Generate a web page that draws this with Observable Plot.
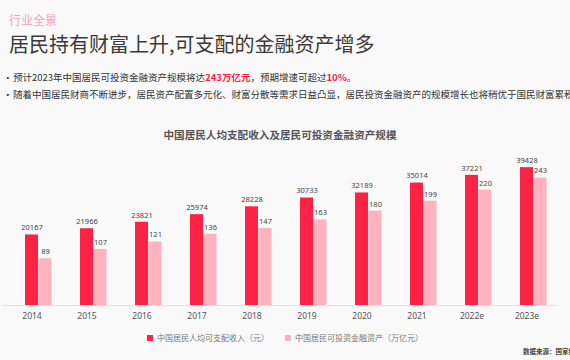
<!DOCTYPE html>
<html>
<head>
<meta charset="utf-8">
<script src="https://cdn.jsdelivr.net/npm/d3@7"></script>
<script src="https://cdn.jsdelivr.net/npm/@observablehq/plot@0.6"></script>
<style>
  html, body { margin: 0; padding: 0; }
  body { width: 570px; height: 360px; background: #f9f9f9; position: relative; overflow: hidden;
         font-family: "Noto Sans", "Noto Sans CJK SC", sans-serif; }
  .abs { position: absolute; white-space: nowrap; }
  #kicker { left: 9px; top: 11px; font-size: 12px; color: #f7a3b2; font-family: "Noto Sans CJK SC", sans-serif; }
  #title { left: 9px; top: 29px; font-size: 20px; color: #3a3a3a; font-family: "Noto Sans CJK SC", sans-serif; }
  .bullet { left: 3px; font-size: 9.5px; color: #333; font-family: "Noto Sans CJK SC", sans-serif; }
  .bullet .dot { display: inline-block; width: 10px; }
  .hl { color: #ff2244; font-weight: bold; }
  #ctitle { left: 0; width: 560px; text-align: center; top: 127px; font-size: 10.6px; font-weight: bold; color: #555; font-family: "Noto Sans CJK SC", sans-serif; }
  #chart { position: absolute; left: 0; top: 150px; }
  .leg { top: 332px; font-size: 8px; color: #777; font-family: "Noto Sans CJK SC", sans-serif; }
  .sw { display: inline-block; width: 6px; height: 6px; margin-right: 4px; vertical-align: 0px; }
  #source { left: 523px; top: 346px; font-size: 6.5px; font-weight: bold; color: #444; font-family: "Noto Sans CJK SC", sans-serif; }
</style>
</head>
<body>
<div id="kicker" class="abs">行业全景</div>
<div id="title" class="abs">居民持有财富上升,可支配的金融资产增多</div>
<div class="abs bullet" style="top:70px"><span class="dot">•</span>预计2023年中国居民可投资金融资产规模将达<span class="hl">243万亿元</span>，预期增速可超过<span class="hl">10%</span>。</div>
<div class="abs bullet" style="top:87px"><span class="dot">•</span>随着中国居民财商不断进步，居民资产配置多元化、财富分散等需求日益凸显，居民投资金融资产的规模增长也将稍优于国民财富累积趋势</div>
<div id="ctitle" class="abs">中国居民人均支配收入及居民可投资金融资产规模</div>
<div id="chart"></div>
<div class="abs leg" style="left:147px"><span class="sw" style="background:#ff2244"></span>中国居民人均可支配收入（元）</div>
<div class="abs leg" style="left:285px"><span class="sw" style="background:#ffb3bf"></span>中国居民可投资金融资产（万亿元）</div>
<div id="source" class="abs">数据来源：国家统计局</div>
<script>
const years = ["2014","2015","2016","2017","2018","2019","2020","2021","2022e","2023e"];
const income = [20167, 21966, 23821, 25974, 28228, 30733, 32189, 35014, 37221, 39428];
const assets = [89, 107, 121, 136, 147, 163, 180, 199, 220, 243];
const assetScale = 150; // secondary-axis factor: assets drawn on income scale

const incomeData = years.map((y, i) => ({year: y, value: income[i], plotted: income[i]}));
const assetData = years.map((y, i) => ({year: y, value: assets[i], plotted: assets[i] * assetScale}));

const barW = 13.5;
const chart = Plot.plot({
  width: 570,
  height: 175,
  marginLeft: 2,
  marginRight: 13,
  marginTop: 10,
  marginBottom: 20,
  style: {background: "transparent", fontFamily: "'Noto Sans', 'Noto Sans CJK SC', sans-serif"},
  x: {type: "band", domain: years, paddingInner: 0.757, paddingOuter: 0.3785, align: 0.5, label: null},
  y: {domain: [0, 41470], axis: null},
  marks: [
    Plot.ruleY([0], {stroke: "#e2e2e2", strokeWidth: 1}),
    Plot.barY(incomeData, {x: "year", y: "plotted", fill: "#ff2244"}),
    Plot.barY(assetData, {x: "year", y: "plotted", fill: "#ffb3bf", dx: barW}),
    Plot.text(incomeData, {x: "year", y: "plotted", text: d => String(d.value), dy: -7, fontSize: 7.5, fill: "#444"}),
    Plot.text(assetData, {x: "year", y: "plotted", text: d => String(d.value), dy: -7, dx: barW, fontSize: 7.5, fill: "#444"}),
    Plot.axisX({tickSize: 0, tickPadding: 7, fontSize: 8.5, color: "#555", label: null})
  ]
});
document.getElementById("chart").appendChild(chart);
</script>
</body>
</html>
